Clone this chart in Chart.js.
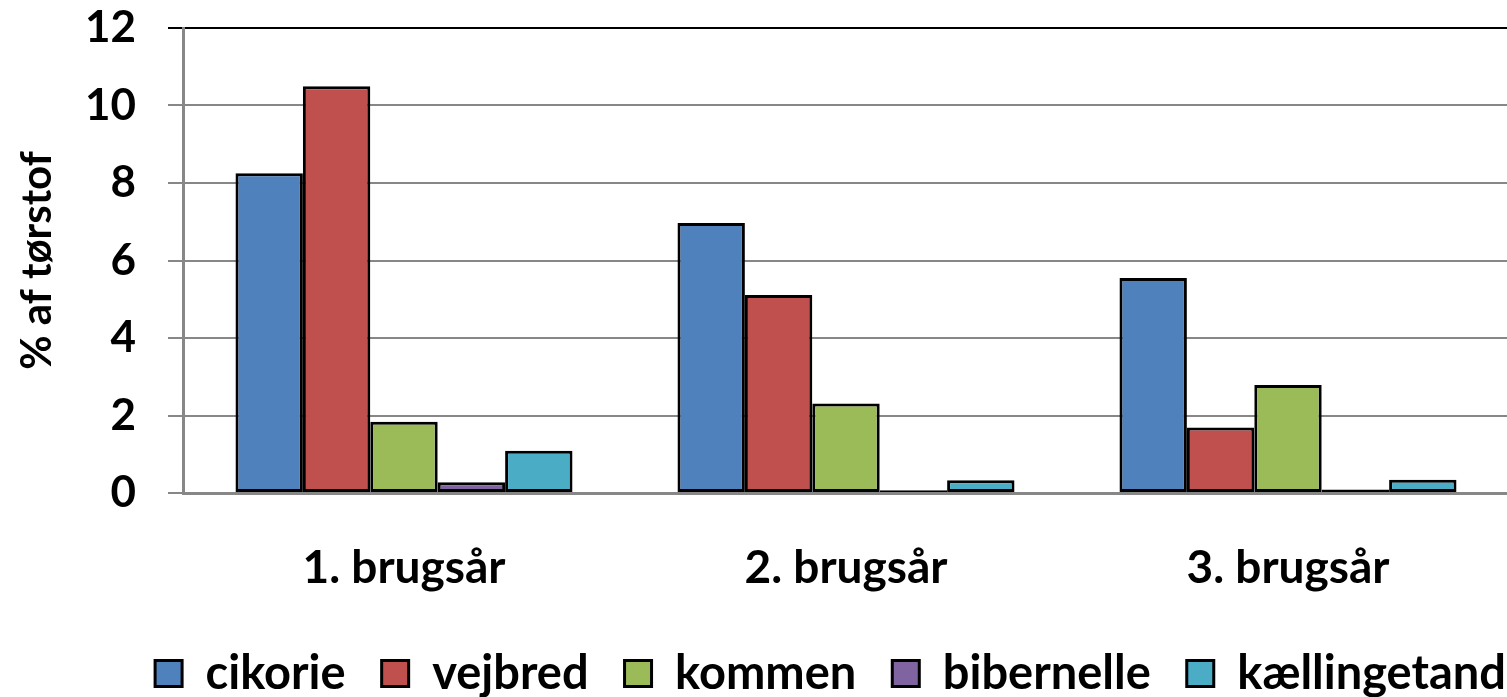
<!DOCTYPE html>
<html>
<head>
<meta charset="utf-8">
<script src="https://cdn.jsdelivr.net/npm/chart.js@4"></script>
<style>
  html, body { margin: 0; padding: 0; background: #fff; overflow: hidden; }
  #wrap { width: 1510px; height: 697px; }
</style>
</head>
<body>
<div id="wrap"><canvas id="chart"></canvas></div>
<script>
// Kategorier og serier
const years = ['1. brugsår', '2. brugsår', '3. brugsår'];
const cikorie = [8.25, 6.97, 5.55];
const vejbred = [10.5, 5.11, 1.69];
const kommen = [1.84, 2.31, 2.79];
const bibernelle = [0.28, 0.07, 0.09];
const kaellingetand = [1.09, 0.33, 0.34];
const yTicks = [0, 2, 4, 6, 8, 10, 12];

const FONT = 'Lato';

function bar(label, data, color) {
    return {
        label: label,
        data: data,
        backgroundColor: color,
        borderColor: '#000',
        borderWidth: 3,
        borderSkipped: false
    };
}

// Flyt forklaringen lidt til højre (den er højrejusteret i originalen)
const legendShift = {
    id: 'legendShift',
    afterLayout(chart) {
        chart.legend.left += 33;
        chart.legend.right += 33;
    }
};

const ctx = document.getElementById('chart').getContext('2d');
new Chart(ctx, {
    type: 'bar',
    data: {
        labels: years,
        datasets: [
            bar('cikorie', cikorie, '#4F81BD'),
            bar('vejbred', vejbred, '#C0504D'),
            bar('kommen', kommen, '#9BBB59'),
            bar('bibernelle', bibernelle, '#8064A2'),
            bar('kællingetand', kaellingetand, '#4BACC6')
        ]
    },
    plugins: [legendShift],
    options: {
        responsive: true,
        maintainAspectRatio: false,
        animation: false,
        layout: { padding: { top: 28, right: 1, bottom: -10, left: 0 } },
        datasets: {
            bar: { categoryPercentage: 0.7625, barPercentage: 1 }
        },
        plugins: {
            tooltip: { enabled: false },
            legend: {
                position: 'bottom',
                align: 'end',
                labels: {
                    color: '#000',
                    font: { family: FONT, size: 47, weight: 'bold' },
                    boxWidth: 27,
                    boxHeight: 26,
                    padding: 36
                }
            }
        },
        scales: {
            x: {
                grid: { display: false },
                border: { display: true, color: '#878787', width: 3 },
                afterFit: (scale) => { scale.height = 121; },
                ticks: {
                    color: '#000',
                    padding: 40,
                    font: { family: FONT, size: 46, weight: 'bold' }
                }
            },
            y: {
                min: 0,
                max: 12,
                afterBuildTicks: (scale) => {
                    scale.ticks = yTicks.map(v => ({ value: v }));
                },
                afterFit: (scale) => {
                    scale.width = 183;
                    scale.paddingTop = 0;
                    scale.paddingBottom = 0;
                },
                grid: {
                    color: (c) => c.tick && c.tick.value === 12 ? '#000' : '#878787',
                    lineWidth: 2,
                    tickLength: 15
                },
                border: { display: true, color: '#878787', width: 3 },
                ticks: {
                    color: '#000',
                    padding: 32,
                    font: { family: FONT, size: 44, weight: 'bold' }
                },
                title: {
                    display: true,
                    text: '% af tørstof',
                    color: '#000',
                    padding: { top: 12, bottom: 0 },
                    font: { family: FONT, size: 42, weight: 'bold' }
                }
            }
        }
    }
});
</script>
</body>
</html>
